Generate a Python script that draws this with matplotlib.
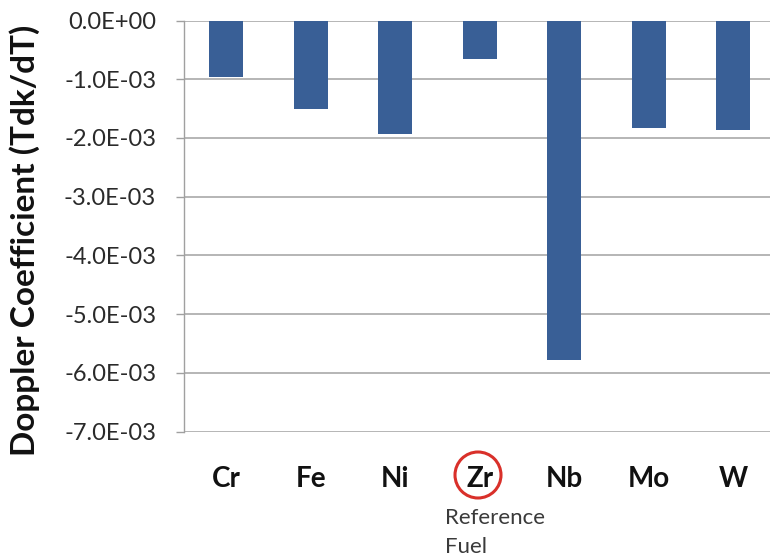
import matplotlib
matplotlib.use("Agg")
import matplotlib.pyplot as plt
from matplotlib.patches import Ellipse

elements = ["Cr", "Fe", "Ni", "Zr", "Nb", "Mo", "W"]
doppler = [-0.96e-3, -1.50e-3, -1.94e-3, -0.66e-3, -5.78e-3, -1.83e-3, -1.86e-3]
yticks = [0.0, -1e-3, -2e-3, -3e-3, -4e-3, -5e-3, -6e-3, -7e-3]
ytick_labels = ["0.0E+00", "-1.0E-03", "-2.0E-03", "-3.0E-03", "-4.0E-03",
                "-5.0E-03", "-6.0E-03", "-7.0E-03"]

plt.rcParams['font.family'] = ['Lato', 'DejaVu Sans']

W, H = 770, 557
fig = plt.figure(figsize=(W/100, H/100), dpi=100)
left, right = 184/W, 775.5/W
top, bottom = 1 - 20.5/H, 1 - 431.7/H
ax = fig.add_axes([left, bottom, right-left, top-bottom])

x = list(range(len(elements)))
ax.bar(x, doppler, width=0.4, color='#395f96', zorder=3)
ax.set_xlim(-0.5, len(elements) - 0.5)
ax.set_ylim(-7e-3, 0)
ax.set_yticks(yticks)
ax.set_yticklabels(ytick_labels, fontsize=17, color='#2a2a2a')
ax.yaxis.grid(True, color='#b0b0b0', linewidth=1.3, zorder=0)
ax.tick_params(axis='y', length=6, color='#a0a0a0', width=1.0, pad=14)
ax.tick_params(axis='x', length=0, pad=25)
ax.set_xticks(x)
ax.set_xticklabels(elements, fontsize=20, fontweight='bold', color='#111111')
for s in ['top', 'right', 'bottom']:
    ax.spines[s].set_visible(False)
ax.spines['left'].set_color('#a0a0a0')
ax.spines['left'].set_linewidth(1.0)

fig.text(25/W, 1 - 240/H, "Doppler Coefficient (Tdk/dT)", fontsize=24,
         fontweight='bold', color='#111111', rotation=90,
         ha='center', va='center')

# red circle around Zr
circ = Ellipse((478/W, 1 - 475/H), 46/W, 46/H, transform=fig.transFigure,
               fill=False, edgecolor='#d9302a', linewidth=2.2)
fig.add_artist(circ)
fig.text(445/W, 1 - 518/H, "Reference", fontsize=16, ha='left', va='center',
         color='#3a3a3a')
fig.text(445/W, 1 - 547/H, "Fuel", fontsize=16, ha='left', va='center',
         color='#3a3a3a')

fig.savefig("out.png", dpi=100)
